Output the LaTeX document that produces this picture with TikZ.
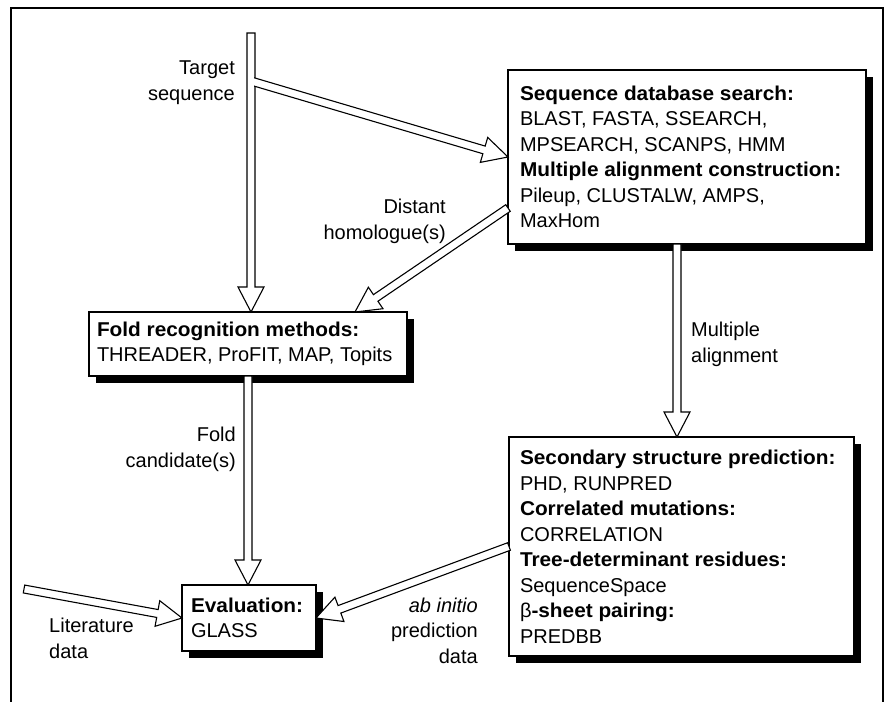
\documentclass[tikz,border=0pt]{standalone}
\usepackage{fontspec}
\setmainfont{Liberation Sans}[BoldFeatures={FakeStretch=1.04}]
\usetikzlibrary{calc}
\usetikzlibrary{positioning}
\usetikzlibrary{shadows}

\tikzset{
  box/.style={draw,fill=white,line width=1.4pt,outer sep=0pt,inner ysep=0pt,anchor=north west,align=flush left,
    drop shadow={shadow xshift=7pt,shadow yshift=-7pt,opacity=1,fill=black}},
  lbl/.style={inner sep=0pt,anchor=base east,align=right},
  lblw/.style={inner sep=0pt,anchor=base west,align=left},
  hollow/.style={draw,fill=white,line width=1.1pt,line join=miter}
}
\newcommand{\hollowarrow}[2]{%
  \coordinate (hb) at ($(#2)!25pt!(#1)$);
  \path[hollow] ($(#1)!4pt!90:(#2)$) -- ($(hb)!4pt!90:(#2)$) -- ($(hb)!13pt!90:(#2)$) -- (#2)
    -- ($(hb)!13pt!-90:(#2)$) -- ($(hb)!4pt!-90:(#2)$) -- ($(#1)!4pt!-90:(#2)$) -- cycle;}

\begin{document}
\begin{tikzpicture}[x=1pt,y=-1pt,font=\fontsize{20}{25.5}\selectfont]
   \useasboundingbox (0,0) rectangle (887,702);
   \draw[line width=1.5pt] (11,702) -- (11,8) -- (883,8) -- (883,702);

   \node[box,minimum width=358pt,minimum height=174pt,text width=334pt,inner xsep=12pt] (seq) at (508,70)
     {\textbf{Sequence database search:}\\BLAST, FASTA, SSEARCH,\\MPSEARCH, SCANPS, HMM\\
      \textbf{Multiple alignment construction:}\\Pileup, CLUSTALW, AMPS,\\MaxHom};
   \node[box,minimum width=318pt,minimum height=64pt,text width=302pt,inner xsep=8pt] (fold) at (89,312)
     {\textbf{Fold recognition methods:}\\THREADER, ProFIT, MAP, Topits};
   \node[box,minimum width=134pt,minimum height=66pt,text width=116pt,inner xsep=9pt] (eval) at (182,585)
     {\textbf{Evaluation:}\\GLASS};
   \node[box,minimum width=345pt,minimum height=219pt,text width=323pt,inner xsep=11pt] (sec) at (509,437)
     {\textbf{Secondary structure prediction:}\\PHD, RUNPRED\\\textbf{Correlated mutations:}\\CORRELATION\\
      \textbf{Tree-determinant residues:}\\SequenceSpace\\β\textbf{-sheet pairing:}\\PREDBB};

   \coordinate (tgt) at (251,33);
   \coordinate (tgtjoin) at (251,81);
   \coordinate (foldtop) at (tgt |- fold.north);
   \coordinate (dist) at ($(seq.north west)+(0,138)$);
   \coordinate (maln) at ([xshift=-10pt]seq.south);
   \coordinate (lit) at (24,589);

   \hollowarrow{tgt}{foldtop}
   \hollowarrow{tgtjoin}{seq.west}
   \fill[white] ($(tgtjoin)+(-3.3,-14)$) rectangle ($(tgtjoin)+(3.3,14)$);
   \hollowarrow{dist}{[xshift=107pt]fold.north}
   \hollowarrow{maln}{maln |- sec.north}
   \hollowarrow{fold.south}{fold.south |- eval.north}
   \hollowarrow{lit}{eval.west}
   \hollowarrow{sec.west}{eval.east}

   \node[lbl] (tgtlbl) at (235,100) {Target\\sequence};
   \node[lbl] (distlbl) at (446,239) {Distant\\homologue(s)};
   \node[lblw] (mallbl) at (691,362) {Multiple\\alignment};
   \node[lbl] (candlbl) at (236,467) {Fold\\candidate(s)};
   \node[lblw] (litlbl) at (49,658) {Literature\\data};
   \node[lbl] (ablbl) at (478,663) {\textit{ab initio}\\prediction\\data};
\end{tikzpicture}
\end{document}
